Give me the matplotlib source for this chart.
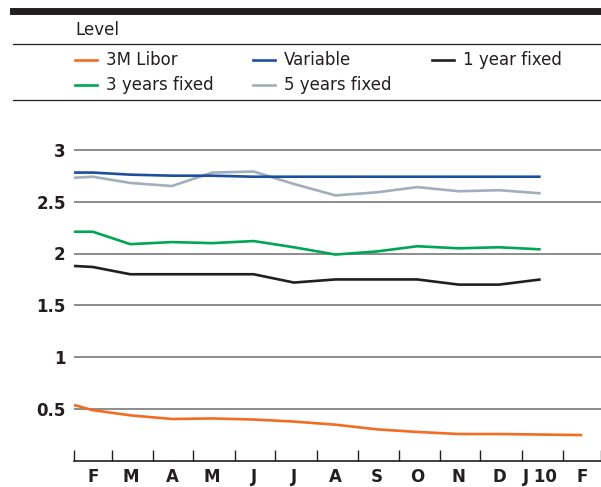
import matplotlib
matplotlib.use("Agg")
import matplotlib.pyplot as plt
import matplotlib.dates as mdates
from matplotlib.lines import Line2D
import datetime as dt

# Dates: first point on the left edge, then one point per month (mid-month)
rate_dates = ["2009-02-01", "2009-02-15", "2009-03-15", "2009-04-15",
              "2009-05-15", "2009-06-15", "2009-07-15", "2009-08-15",
              "2009-09-15", "2009-10-15", "2009-11-15", "2009-12-15",
              "2010-01-15"]
libor_dates = rate_dates + ["2010-02-15"]

libor = [0.54, 0.49, 0.44, 0.405, 0.41, 0.40, 0.38, 0.35, 0.305, 0.28,
         0.26, 0.26, 0.255, 0.25]
variable = [2.78, 2.78, 2.76, 2.75, 2.75, 2.74, 2.74, 2.74, 2.74, 2.74,
            2.74, 2.74, 2.74]
fixed_1y = [1.88, 1.87, 1.80, 1.80, 1.80, 1.80, 1.72, 1.75, 1.75, 1.75,
            1.70, 1.70, 1.75]
fixed_3y = [2.21, 2.21, 2.09, 2.11, 2.10, 2.12, 2.06, 1.99, 2.02, 2.07,
            2.05, 2.06, 2.04]
fixed_5y = [2.73, 2.74, 2.68, 2.65, 2.78, 2.79, 2.67, 2.56, 2.59, 2.64,
            2.60, 2.61, 2.58]

month_labels = ["F", "M", "A", "M", "J", "J", "A", "S", "O", "N", "D",
                "J 10", "F"]
y_ticks = [0.5, 1, 1.5, 2, 2.5, 3]
y_tick_labels = ["0.5", "1", "1.5", "2", "2.5", "3"]


def to_dates(strings):
    return [dt.datetime.strptime(s, "%Y-%m-%d") for s in strings]


def main():
    plt.rcParams["font.family"] = ["DejaVu Sans"]
    fig = plt.figure(figsize=(6.01, 4.87), dpi=100)
    ax = fig.add_axes([74 / 601, 26 / 487, 527 / 601, 332 / 487])

    # Series: label, dates, values, colour (legend order)
    series = [
        ("3M Libor", libor_dates, libor, "#f26c21"),
        ("Variable", rate_dates, variable, "#1c4f9f"),
        ("1 year fixed", rate_dates, fixed_1y, "#231f20"),
        ("3 years fixed", rate_dates, fixed_3y, "#00a651"),
        ("5 years fixed", rate_dates, fixed_5y, "#a2aebb"),
    ]
    draw_order = [4, 1, 3, 2, 0]
    for i in draw_order:
        label, d, v, c = series[i]
        ax.plot(to_dates(d), v, color=c, lw=1.9, solid_capstyle="butt",
                zorder=3)

    # Axes limits and grid
    ax.set_xlim(dt.datetime(2009, 2, 1), dt.datetime(2010, 3, 1))
    ax.set_ylim(0, 3.2)
    ax.set_yticks(y_ticks)
    ax.set_yticklabels(y_tick_labels, fontsize=12, fontweight="bold",
                       color="#231f20")
    ax.yaxis.grid(True, color="#6d6d6d", lw=1.1)
    ax.tick_params(axis="y", length=0, pad=6)

    # Month boundaries as ticks, month letters in between
    ax.xaxis.set_major_locator(mdates.MonthLocator())
    ax.xaxis.set_major_formatter(plt.NullFormatter())
    ax.xaxis.set_minor_locator(mdates.MonthLocator(bymonthday=15))
    ax.set_xticklabels(month_labels, minor=True, fontsize=12,
                       fontweight="bold", color="#231f20")
    ax.tick_params(axis="x", which="major", direction="in", length=8,
                   width=1, color="#231f20")
    ax.tick_params(axis="x", which="minor", length=0, pad=5)

    for side in ["top", "right", "left"]:
        ax.spines[side].set_visible(False)
    ax.spines["bottom"].set_color("#231f20")
    ax.spines["bottom"].set_linewidth(1.2)
    ax.set_axisbelow(True)

    # Header rules
    fig.add_artist(Line2D([13 / 601, 1], [1 - 11 / 487] * 2,
                          color="#231f20", lw=5))
    fig.add_artist(Line2D([13 / 601, 1], [1 - 44 / 487] * 2,
                          color="#231f20", lw=0.9))
    fig.add_artist(Line2D([13 / 601, 1], [1 - 100 / 487] * 2,
                          color="#231f20", lw=0.9))
    fig.text(75 / 601, 1 - 30 / 487, "Level", fontsize=12,
             color="#231f20", va="center")

    # Legend drawn by hand in three columns
    col_x = [75, 253, 432]
    row_y = [60, 85]
    for i, (label, d, v, c) in enumerate(series):
        x0 = col_x[i % 3]
        y0 = 1 - row_y[i // 3] / 487
        fig.add_artist(Line2D([x0 / 601, (x0 + 22) / 601], [y0, y0],
                              color=c, lw=1.9))
        fig.text((x0 + 31) / 601, y0, label, fontsize=12,
                 color="#231f20", va="center")

    fig.savefig("out.png", dpi=100)


if __name__ == "__main__":
    main()
